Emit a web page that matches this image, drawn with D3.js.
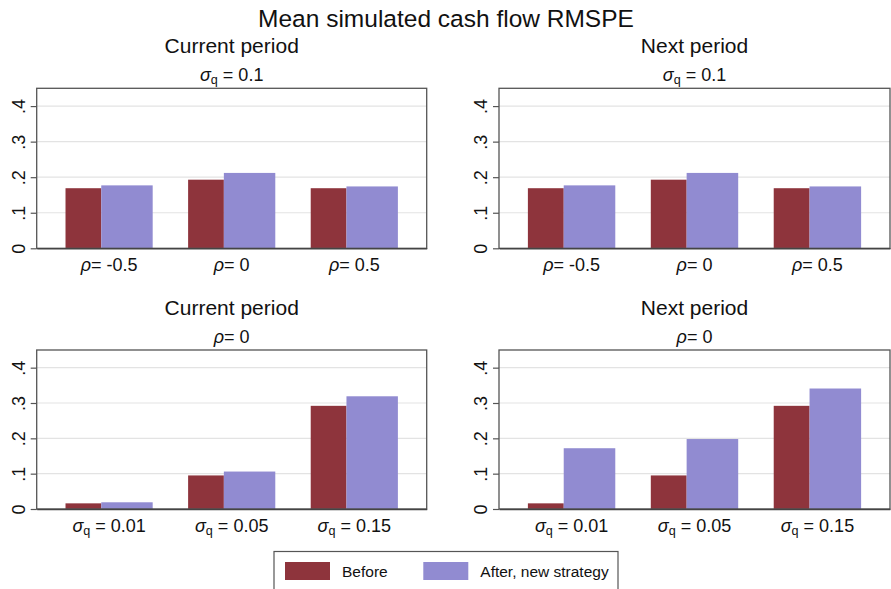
<!DOCTYPE html>
<html>
<head>
<meta charset="utf-8">
<script src="https://cdn.jsdelivr.net/npm/d3@7"></script>
<style>
  body { margin: 0; background: #fff; }
  text { font-family: "Liberation Sans", Arial, sans-serif; fill: #111; }
</style>
</head>
<body>
<div id="chart"></div>
<script>
// datos
const rhoValues = ["-0.5", "0", "0.5"];
const sigmaValues = ["0.01", "0.05", "0.15"];
const yTicks = [0, 0.1, 0.2, 0.3, 0.4];

const currentTopBefore = [0.169, 0.193, 0.169];
const currentTopAfter = [0.177, 0.212, 0.174];
const nextTopBefore = [0.169, 0.193, 0.169];
const nextTopAfter = [0.177, 0.212, 0.174];

const currentBottomBefore = [0.016, 0.095, 0.292];
const currentBottomAfter = [0.019, 0.106, 0.319];
const nextBottomBefore = [0.016, 0.095, 0.292];
const nextBottomAfter = [0.172, 0.198, 0.341];

const seriesNames = ["Before", "After, new strategy"];
const colors = ["#8e343c", "#918bd1"];

const width = 891, height = 589;

const svg = d3.select("#chart").append("svg")
    .attr("width", width)
    .attr("height", height);

// titulo principal
svg.append("text")
    .attr("x", 446).attr("y", 27)
    .attr("text-anchor", "middle")
    .style("font-size", "24.5px")
    .text("Mean simulated cash flow RMSPE");

// texto con simbolo griego (y subindice opcional)
function symbolText(sel, sym, sub, value) {
    sel.append("tspan").style("font-style", "italic").text(sym);
    if (sub) {
        sel.append("tspan").attr("dy", 3).style("font-size", "70%").text(sub);
        sel.append("tspan").attr("dy", -3).text(" = " + value);
    } else {
        sel.append("tspan").text("= " + value);
    }
}

const panels = [
    { x0: 36.7, x1: 426.7, top: 88.3, h: 160, title: "Current period", sym: "σ", sub: "q", val: "0.1",
      cats: rhoValues, catSym: "ρ", catSub: null, before: currentTopBefore, after: currentTopAfter },
    { x0: 499, x1: 890, top: 88.3, h: 160, title: "Next period", sym: "σ", sub: "q", val: "0.1",
      cats: rhoValues, catSym: "ρ", catSub: null, before: nextTopBefore, after: nextTopAfter },
    { x0: 36.7, x1: 426.7, top: 350, h: 159, title: "Current period", sym: "ρ", sub: null, val: "0",
      cats: sigmaValues, catSym: "σ", catSub: "q", before: currentBottomBefore, after: currentBottomAfter },
    { x0: 499, x1: 890, top: 350, h: 159, title: "Next period", sym: "ρ", sub: null, val: "0",
      cats: sigmaValues, catSym: "σ", catSub: "q", before: nextBottomBefore, after: nextBottomAfter }
];

panels.forEach(p => {
    const w = p.x1 - p.x0;
    const g = svg.append("g").attr("transform", `translate(${p.x0},${p.top})`);

    const x = d3.scaleBand().domain(p.cats).range([0, w]).paddingInner(0.289).paddingOuter(0.235);
    const y = d3.scaleLinear().domain([0, 0.45]).range([p.h, 0]);

    // titulos del panel
    g.append("text")
        .attr("x", w / 2).attr("y", -35)
        .attr("text-anchor", "middle")
        .style("font-size", "21px")
        .text(p.title);
    g.append("text")
        .attr("x", w / 2).attr("y", -7)
        .attr("text-anchor", "middle")
        .style("font-size", "18px")
        .call(symbolText, p.sym, p.sub, p.val);

    // lineas de cuadricula
    g.selectAll(".grid")
        .data(yTicks.filter(d => d > 0))
        .enter().append("line")
        .attr("x1", 0).attr("x2", w)
        .attr("y1", d => y(d)).attr("y2", d => y(d))
        .attr("stroke", "#e3e3e3")
        .attr("stroke-width", 1.2);

    // barras
    const data = p.cats.map((c, i) => ({ cat: c, before: p.before[i], after: p.after[i] }));
    const redW = x.bandwidth() * 0.41;
    g.selectAll(".before")
        .data(data).enter().append("rect")
        .attr("x", d => x(d.cat))
        .attr("width", redW)
        .attr("y", d => y(d.before))
        .attr("height", d => y(0) - y(d.before))
        .attr("fill", colors[0]);
    g.selectAll(".after")
        .data(data).enter().append("rect")
        .attr("x", d => x(d.cat) + redW)
        .attr("width", x.bandwidth() - redW)
        .attr("y", d => y(d.after))
        .attr("height", d => y(0) - y(d.after))
        .attr("fill", colors[1]);

    // marco
    g.append("rect")
        .attr("x", 0).attr("y", 0)
        .attr("width", w).attr("height", p.h)
        .attr("fill", "none")
        .attr("stroke", "#555")
        .attr("stroke-width", 1.3);

    // eje y
    const yAxis = g.append("g")
        .call(d3.axisLeft(y).tickValues(yTicks).tickSize(6).tickPadding(0)
            .tickFormat(d => d === 0 ? "0" : d3.format(".1f")(d).replace(/^0/, "")));
    yAxis.select(".domain").remove();
    yAxis.selectAll(".tick line").attr("stroke", "#555").attr("stroke-width", 1.2);
    yAxis.selectAll(".tick text")
        .attr("x", null).attr("dy", null)
        .attr("transform", "translate(-12,0) rotate(-90)")
        .attr("text-anchor", "middle")
        .style("font-size", "18px")
        .style("font-family", "'Liberation Sans', Arial, sans-serif")
        .attr("fill", "#111");

    // eje x
    const xAxis = g.append("g")
        .attr("transform", `translate(0,${p.h})`)
        .call(d3.axisBottom(x).tickSize(0).tickFormat(() => ""));
    xAxis.select(".domain").attr("stroke", "#444").attr("stroke-width", 1.5);
    xAxis.selectAll(".tick text")
        .attr("y", 23).attr("dy", null)
        .style("font-size", "18px")
        .style("font-family", "'Liberation Sans', Arial, sans-serif")
        .attr("fill", "#111")
        .each(function(d) { d3.select(this).call(symbolText, p.catSym, p.catSub, d); });
});

// leyenda
const legend = svg.append("g");
legend.append("rect")
    .attr("x", 274).attr("y", 551.5)
    .attr("width", 344).attr("height", 45)
    .attr("fill", "#fff")
    .attr("stroke", "#555")
    .attr("stroke-width", 1.2);
const legendX = [285, 423.3];
seriesNames.forEach((name, i) => {
    legend.append("rect")
        .attr("x", legendX[i]).attr("y", 562)
        .attr("width", 45).attr("height", 18)
        .attr("fill", colors[i]);
    legend.append("text")
        .attr("x", legendX[i] + 57).attr("y", 577)
        .style("font-size", "15.5px")
        .text(name);
});
</script>
</body>
</html>
